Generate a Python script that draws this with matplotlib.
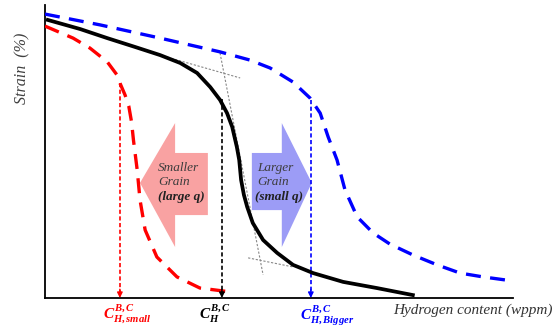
import matplotlib
matplotlib.use("Agg")
import matplotlib.pyplot as plt
from matplotlib.patches import Polygon

plt.rcParams['font.family'] = ['Liberation Serif', 'DejaVu Serif']
plt.rcParams['mathtext.fontset'] = 'custom'
plt.rcParams['mathtext.it'] = 'Liberation Serif:italic:bold'
plt.rcParams['mathtext.rm'] = 'Liberation Serif:bold'

# Curves (hydrogen content 0-100, strain 0-100)
black_x = [0.6, 7.5, 13.3, 19.2, 24.6, 28.9, 32.5, 35.3, 37.4, 38.9, 40.0, 41.0, 41.5,
           41.9, 42.5, 43.2, 44.4, 46.6, 49.6, 53.0, 57.3, 63.7, 70.9, 78.6]
black_y = [94.9, 91.8, 88.7, 85.7, 82.9, 80.2, 76.8, 72.0, 67.6, 63.1, 58.4, 51.5, 47.1,
           40.3, 35.2, 31.1, 25.6, 19.8, 15.4, 11.3, 8.5, 5.5, 3.4, 1.0]

blue_x = [0.0, 11.8, 24.6, 37.4, 43.8, 48.1, 53.0, 56.6, 58.8, 60.5, 62.4, 64.1, 66.7,
          70.1, 73.7, 78.6, 83.8, 88.7, 93.6, 100.0]
blue_y = [96.9, 93.2, 88.7, 84.0, 81.2, 78.5, 73.7, 68.3, 63.1, 55.0, 47.1, 36.9, 27.7,
          22.2, 18.4, 14.7, 11.3, 8.5, 7.2, 5.8]

red_x = [0.0, 6.0, 9.6, 13.3, 15.4, 16.0, 17.1, 17.9, 18.5, 18.9, 19.7, 20.3, 21.4, 23.9,
         28.2, 33.1, 39.5]
red_y = [92.8, 88.7, 85.3, 80.6, 76.1, 73.4, 69.3, 65.5, 60.0, 53.9, 43.7, 33.5, 23.2, 14.0,
         7.2, 3.4, 2.1]

# critical concentrations (x, strain where the drop starts)
crit_x = [16.0, 37.8, 56.8]
crit_y = [73.4, 68.0, 67.6]
crit_colors = ['#FF0000', 'black', '#0000FF']
crit_labels = [r'$C_{H,small}^{B,C}$', r'$C_{H}^{B,C}$', r'$C_{H,Bigger}^{B,C}$']
crit_label_x = [17.5, 36.3, 60.3]

# tangent construction lines
tangents = [([24.6, 41.7], [82.9, 75.1]),
            ([37.4, 46.6], [83.6, 7.9]),
            ([43.4, 53.0], [13.7, 10.6])]

# block arrows
red_arrow = [(20.3, 39.3), (27.8, 59.7), (27.8, 49.5), (34.8, 49.5),
             (34.8, 28.3), (27.8, 28.3), (27.8, 17.4)]
blue_arrow = [(44.2, 49.5), (50.6, 49.5), (50.6, 59.7), (57.0, 39.3),
              (50.6, 17.4), (50.6, 30.0), (44.2, 30.0)]

fig = plt.figure(figsize=(5.58, 3.27), dpi=100)
ax = fig.add_axes([45 / 558, 29 / 327, 468 / 558, 293 / 327])
ax.set_xlim(0, 100)
ax.set_ylim(0, 100)

ax.add_patch(Polygon(red_arrow, closed=True, fc='#F9A2A2', ec='none', zorder=1))
ax.add_patch(Polygon(blue_arrow, closed=True, fc='#9C9CF6', ec='none', zorder=1))

for tx, ty in tangents:
    ax.plot(tx, ty, color='#888888', lw=0.8, ls=(0, (2, 1.5)), zorder=2)

ax.plot(blue_x, blue_y, color='#0000FF', lw=2.4, ls=(0, (4.5, 2.8)), zorder=3)
ax.plot(red_x, red_y, color='#FF0000', lw=2.4, ls=(0, (4.5, 2.8)), zorder=3)
ax.plot(black_x, black_y, color='black', lw=2.7, zorder=4, solid_joinstyle='round')

for x, y, c, lab, lx in zip(crit_x, crit_y, crit_colors, crit_labels, crit_label_x):
    ax.plot([x, x], [y, 1.5], color=c, lw=1.2, ls=(0, (2.5, 1.5)), zorder=3)
    ax.annotate('', xy=(x, 0), xytext=(x, 3),
                arrowprops=dict(arrowstyle='-|>', color=c, lw=1.0,
                                mutation_scale=8, shrinkA=0, shrinkB=0))
    ax.text(lx, -1.6, lab, color=c, fontsize=11, ha='center', va='top',
            clip_on=False)

txt = '#3c3c3c'
ax.text(24.1, 44.4, 'Smaller', style='italic', fontsize=9.5, color=txt, va='center')
ax.text(24.1, 39.6, 'Grain', style='italic', fontsize=9.5, color=txt, va='center')
ax.text(24.1, 34.5, '(large q)', style='italic', weight='bold', fontsize=9.5,
        color='#222222', va='center')
ax.text(45.3, 44.4, 'Larger', style='italic', fontsize=9.5, color=txt, va='center')
ax.text(45.3, 39.6, 'Grain', style='italic', fontsize=9.5, color=txt, va='center')
ax.text(44.9, 34.5, '(small q)', style='italic', weight='bold', fontsize=9.5,
        color='#222222', va='center')

ax.text(108.5, -4.3, 'Hydrogen content (wppm)', style='italic', fontsize=11,
        color='#333333', ha='right', va='center', clip_on=False)
ax.text(-4.9, 78.5, 'Strain  (%)', style='italic', fontsize=11.5, color='#404040',
        rotation=90, ha='center', va='center', clip_on=False)

ax.spines['top'].set_visible(False)
ax.spines['right'].set_visible(False)
ax.spines['left'].set_linewidth(1.3)
ax.spines['bottom'].set_linewidth(1.3)
ax.set_xticks([])
ax.set_yticks([])

fig.savefig('out.png', dpi=100)
